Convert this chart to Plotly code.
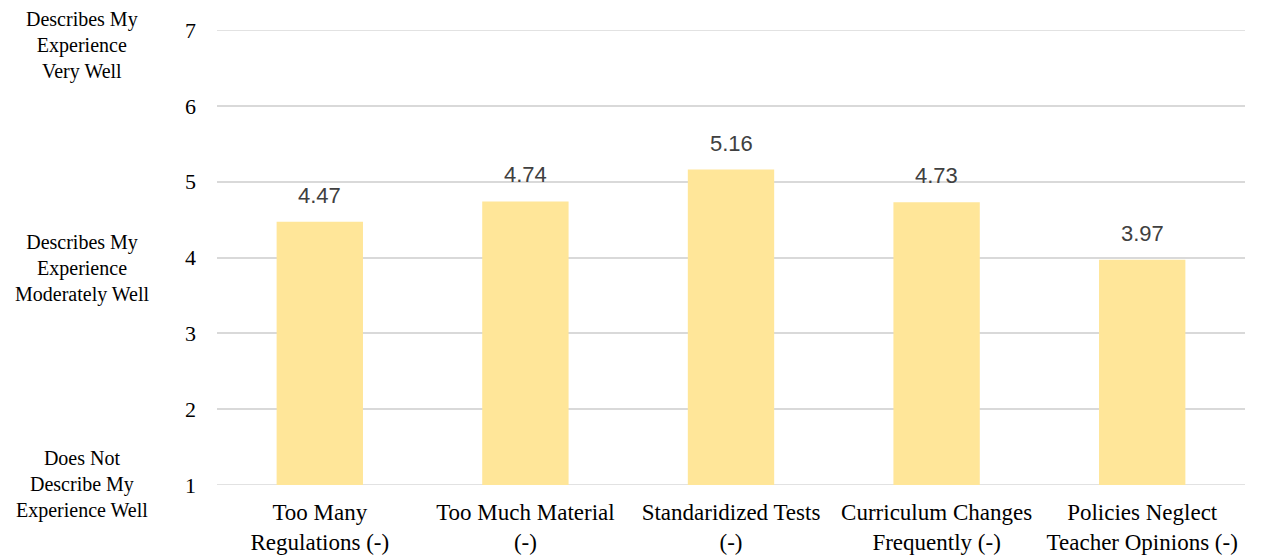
import plotly.graph_objects as go

categories = ["Too Many<br>Regulations (-)", "Too Much Material<br>(-)", "Standaridized Tests<br>(-)",
              "Curriculum Changes<br>Frequently (-)", "Policies Neglect<br>Teacher Opinions (-)"]
values = [4.47, 4.74, 5.16, 4.73, 3.97]
value_labels = ["4.47", "4.74", "5.16", "4.73", "3.97"]
tick_vals = [1, 2, 3, 4, 5, 6, 7]
scale_labels = ["Describes My<br>Experience<br>Very Well",
                "Describes My<br>Experience<br>Moderately Well",
                "Does Not<br>Describe My<br>Experience Well"]
scale_pos = [6.79, 3.85, 1.01]

SERIF = "'Times New Roman', 'Liberation Serif', serif"
SANS = "'Liberation Sans', Arial, sans-serif"

fig = go.Figure()
fig.add_trace(go.Bar(
    x=categories, y=values,
    marker=dict(color="#FFE699", line=dict(width=0)),
    cliponaxis=False,
))

for c, v, t in zip(categories, values, value_labels):
    fig.add_annotation(text=t, x=c, y=v, xref="x", yref="y", showarrow=False,
                       xanchor="center", yanchor="bottom", yshift=12,
                       font=dict(family=SANS, size=22, color="#404040"))

for txt, pos in zip(scale_labels, scale_pos):
    fig.add_annotation(text=txt, x=-0.1313, xref="paper", y=pos, yref="y",
                       xanchor="center", yanchor="middle", showarrow=False,
                       font=dict(family=SERIF, size=20, color="black"))

# top and bottom grid lines (plotly drops gridlines on the plot edges)
for gv in (tick_vals[0], tick_vals[-1]):
    fig.add_shape(type="line", xref="paper", x0=0, x1=1, yref="y", y0=gv, y1=gv,
                  line=dict(color="#D9D9D9", width=1.5), layer="below")

fig.update_layout(
    width=1261, height=556,
    margin=dict(l=209, r=24, t=22, b=79),
    paper_bgcolor="white", plot_bgcolor="white",
    bargap=0.58, showlegend=False,
    font=dict(family=SERIF, color="black"),
)
fig.update_yaxes(range=[1, 7], tickvals=tick_vals, showgrid=True, gridcolor="#D9D9D9",
                 gridwidth=1.5, zeroline=False, showline=False, ticks="", automargin=False,
                 ticklabelstandoff=20, tickfont=dict(family=SERIF, size=22, color="black"))
fig.update_xaxes(showline=False, ticks="", ticklabelstandoff=11, automargin=False,
                 tickfont=dict(family=SERIF, size=23, color="black"))

fig.write_html("out.html")
